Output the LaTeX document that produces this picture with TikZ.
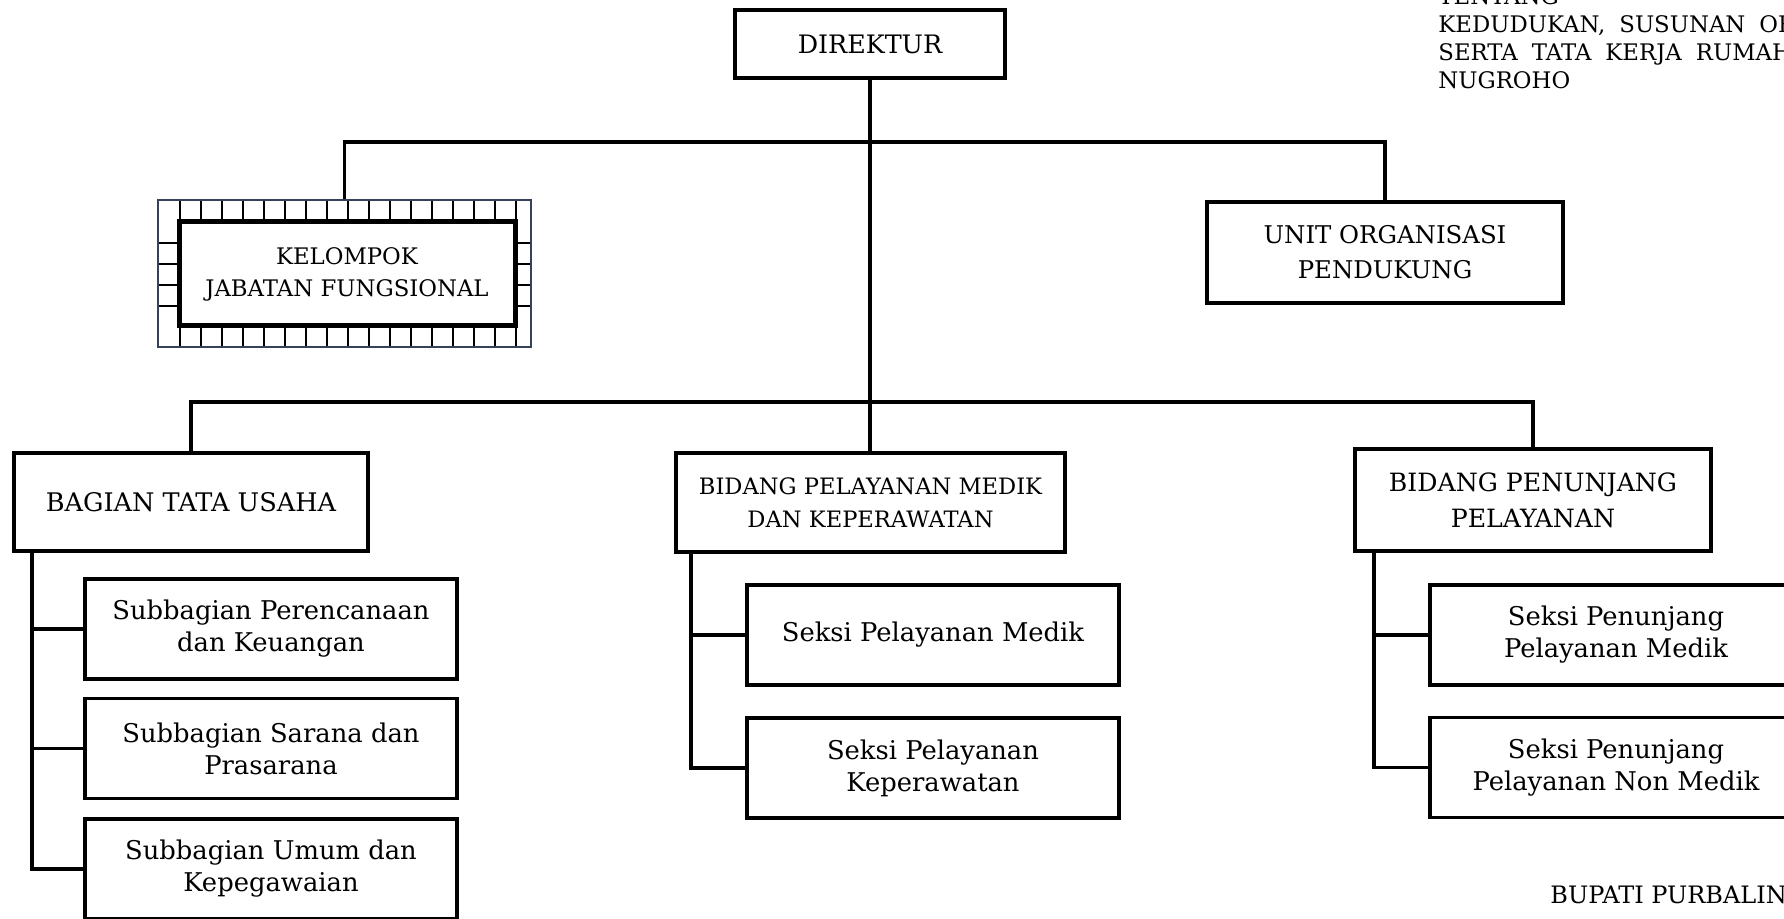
\documentclass[tikz,border=0pt]{standalone}
\usepackage{fontspec}
\setmainfont{DejaVu Serif}
\definecolor{bingkai}{RGB}{52,67,89}
\tikzset{
    kotak/.style={draw, line width=1.8pt, fill=white, align=center, inner sep=2pt},
    anak/.style={kotak, minimum width=186pt, minimum height=50pt, font=\fontsize{12.9}{16}\selectfont},
    garis/.style={line width=1.8pt}
}
\begin{document}
\begin{tikzpicture}[x=0.5pt, y=-0.5pt]
    \useasboundingbox (0, 0) rectangle (1784, 919);

    % pimpinan
    \node [kotak, minimum width=135pt, minimum height=34pt, font=\fontsize{12.7}{16}\selectfont] (direktur) at (870, 44){DIREKTUR};

    % kelompok jabatan fungsional (bingkai berpetak)
    \foreach \gx in {180, 201, ..., 516}
        \draw [line width=1pt] (\gx, 200) -- (\gx, 347);
    \foreach \gy in {243, 264, ..., 306}
        \draw [line width=1pt] (158, \gy) -- (531, \gy);
    \node [draw=bingkai, line width=0.8pt, minimum width=186.5pt, minimum height=73.5pt] (kjfluar) at (344.5, 273.5){};
    \node [kotak, line width=2.5pt, minimum width=168pt, minimum height=52pt, font=\fontsize{11.4}{16}\selectfont] (kjf) at (347, 274){KELOMPOK\\JABATAN FUNGSIONAL};

    \node [kotak, minimum width=178pt, minimum height=50.5pt, font=\fontsize{12.2}{17.5}\selectfont] (uop) at (1385, 252.5){UNIT ORGANISASI\\PENDUKUNG};

    % bagian dan bidang
    \node [kotak, minimum width=177pt, minimum height=49pt, font=\fontsize{12.8}{16}\selectfont] (tu) at (191, 502){BAGIAN TATA USAHA};
    \node [kotak, minimum width=194.5pt, minimum height=49.5pt, font=\fontsize{11.3}{16.5}\selectfont] (pm) at (870.5, 502.5){BIDANG PELAYANAN MEDIK\\DAN KEPERAWATAN};
    \node [kotak, minimum width=178pt, minimum height=51pt, font=\fontsize{12.6}{18}\selectfont] (ppen) at (1533, 500){BIDANG PENUNJANG\\PELAYANAN};

    % subbagian dan seksi
    \node [anak] (sub1) at (271, 629){Subbagian Perencanaan\\dan Keuangan};
    \node [anak] (sub2) at (271, 748.5){Subbagian Sarana dan\\Prasarana};
    \node [anak] (sub3) at (271, 869){Subbagian Umum dan\\Kepegawaian};
    \node [anak] (spm) at (933, 635){Seksi Pelayanan Medik};
    \node [anak] (spk) at (933, 768){Seksi Pelayanan\\Keperawatan};
    \node [anak] (sppm) at (1616, 635){Seksi Penunjang\\Pelayanan Medik};
    \node [anak] (sppnm) at (1616, 767.5){Seksi Penunjang\\Pelayanan Non Medik};

    % garis hubung
    \coordinate (atas) at (870, 142);
    \coordinate (bawah) at (870, 402);
    \draw [garis] (direktur.south) -- (direktur.south |- pm.north);
    \draw [garis] (kjfluar.north) |- (atas) -| (uop.north);
    \draw [garis] (tu.north) |- (bawah) -| (ppen.north);

    \coordinate (tuk) at ([xshift=10pt]tu.south west);
    \draw [garis] (tuk) |- (sub3.west);
    \draw [garis] (sub1.west) -- (sub1.west -| tuk);
    \draw [garis] (sub2.west) -- (sub2.west -| tuk);

    \coordinate (pmk) at ([xshift=8.5pt]pm.south west);
    \draw [garis] (pmk) |- (spk.west);
    \draw [garis] (spm.west) -- (spm.west -| pmk);

    \coordinate (ppk) at ([xshift=10.5pt]ppen.south west);
    \draw [garis] (ppk) |- (sppnm.west);
    \draw [garis] (sppm.west) -- (sppm.west -| ppk);

    % teks lampiran
    \node [anchor=north west, inner sep=0pt, align=left, font={\fontsize{11.4}{14}\selectfont\spaceskip=7pt\relax}] (keterangan) at (1438, -13){TENTANG\\KEDUDUKAN, SUSUNAN ORGANISASI\\SERTA TATA KERJA RUMAH\\NUGROHO};
    \node [anchor=base west, inner sep=0pt, font=\fontsize{12}{14}\selectfont] (bupati) at (1550, 903){BUPATI PURBALINGGA};
\end{tikzpicture}
\end{document}
